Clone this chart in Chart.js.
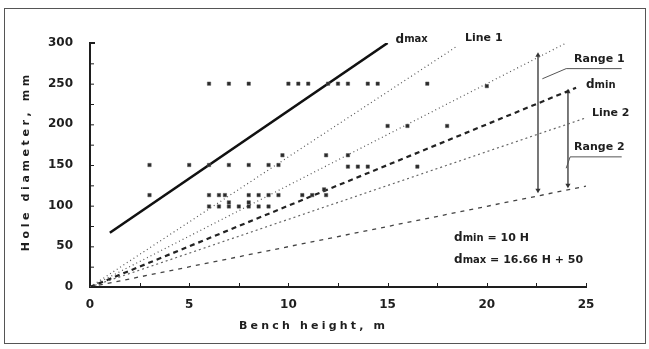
<!DOCTYPE html>
<html>
<head>
<meta charset="utf-8">
<script src="https://cdn.jsdelivr.net/npm/chart.js@4/dist/chart.umd.min.js"></script>
<style>
  html, body { margin: 0; padding: 0; background: #fff; }
  #wrap { width: 649px; height: 349px; }
</style>
</head>
<body>
<div id="wrap"><canvas id="chart" width="649" height="349"></canvas></div>
<script>
// ── data ──────────────────────────────────────────────────────────
const benchHeight = [
  6, 7, 8, 10, 10.5, 11, 12, 12.5, 13, 14, 14.5, 17, 20,
  9.7, 11.9, 13,
  15, 16, 18,
  3, 5, 6, 7, 8, 9, 9.5, 13, 13.5, 14, 16.5,
  3, 6, 6.5, 6.8, 8, 8.5, 9, 9.5, 10.7, 11.2, 11.9,
  11.8,
  6, 6.5, 7, 7.5, 8, 8.5, 9,
  7, 8
];
const holeDiameter = [
  250, 250, 250, 250, 250, 250, 250, 250, 250, 250, 250, 250, 247,
  162, 162, 162,
  198, 198, 198,
  150, 150, 150, 150, 150, 150, 150, 148, 148, 148, 148,
  113, 113, 113, 113, 113, 113, 113, 113, 113, 113, 113,
  120,
  99, 99, 99, 99, 99, 99, 99,
  104, 104
];

// line end points [H, d]
const dmaxLine  = [[1, 66.66], [15, 300]];
const line1     = [[0, 0], [18.5, 296]];
const upperLine = [[0, 0], [24, 300]];
const dminLine  = [[0, 0], [24.5, 245]];
const line2     = [[0, 0], [25, 208]];
const lowerLine = [[0, 0], [25, 124]];

// range arrows [H, d]
const range1 = [[22.58, 285], [22.58, 119]];
const range2 = [[24.09, 240], [24.09, 125]];

const xTicks = [0, 5, 10, 15, 20, 25];
const yTicks = [0, 50, 100, 150, 200, 250, 300];

const FONT = "'DejaVu Sans', Verdana, sans-serif";
const INK = "#1e1e1e";

const toPts = arr => arr.map(p => ({ x: p[0], y: p[1] }));

function lineSet(pts, width, dash, color) {
    return {
        data: toPts(pts), showLine: true, pointRadius: 0,
        borderColor: color, borderWidth: width, borderDash: dash
    };
}

function arrowSet(pts) {
    return {
        data: toPts(pts), showLine: true, borderColor: "#666", borderWidth: 1,
        pointStyle: "triangle", pointRadius: 3, pointRotation: [0, 180],
        pointBackgroundColor: "#333", pointBorderColor: "#333", pointBorderWidth: 0
    };
}

// text with extra letter spacing, centred on x
function spaced(ctx, text, x, y, gap) {
    const widths = [...text].map(ch => ctx.measureText(ch).width);
    const total = widths.reduce((a, b) => a + b, 0) + gap * (text.length - 1);
    let cx = x - total / 2;
    [...text].forEach((ch, i) => { ctx.fillText(ch, cx, y); cx += widths[i] + gap; });
}

// "d" + smaller trailing word
function dLabel(ctx, sub, x, y) {
    ctx.font = `bold 12px ${FONT}`;
    ctx.fillText("d", x, y);
    const w = ctx.measureText("d").width;
    ctx.font = `bold 10px ${FONT}`;
    ctx.fillText(sub, x + w, y);
    return x + w + ctx.measureText(sub).width;
}

const decor = {
    id: "decor",
    afterDraw(chart) {
        const { ctx, scales: { x, y } } = chart;
        const px = v => x.getPixelForValue(v);
        const py = v => y.getPixelForValue(v);
        ctx.save();

        // outer frame
        ctx.strokeStyle = "#555";
        ctx.lineWidth = 1;
        ctx.strokeRect(4.5, 8.5, 641, 335);

        // inward tick marks
        ctx.strokeStyle = INK;
        ctx.lineWidth = 1;
        for (let v = 25; v < 300; v += 25) {
            ctx.beginPath();
            ctx.moveTo(px(0), py(v) + 0.5);
            ctx.lineTo(px(0) + 4, py(v) + 0.5);
            ctx.stroke();
        }
        ctx.beginPath(); ctx.moveTo(px(0), py(300)); ctx.lineTo(px(0) + 5, py(300)); ctx.lineWidth = 2; ctx.stroke();
        ctx.lineWidth = 1;
        for (let v = 2.5; v <= 25; v += 2.5) {
            ctx.beginPath();
            ctx.moveTo(Math.round(px(v)) + 0.5, py(0));
            ctx.lineTo(Math.round(px(v)) + 0.5, py(0) - 4);
            ctx.stroke();
        }

        // axis titles
        ctx.fillStyle = INK;
        ctx.textBaseline = "middle";
        ctx.font = `bold 11px ${FONT}`;
        spaced(ctx, "Bench height, m", 312, 326, 3.2);
        ctx.save();
        ctx.translate(26, 163);
        ctx.rotate(-Math.PI / 2);
        spaced(ctx, "Hole diameter, mm", 0, 0, 3.6);
        ctx.restore();

        // line labels
        dLabel(ctx, "max", px(15.4), py(304));
        ctx.font = `bold 11px ${FONT}`;
        ctx.fillText("Line 1", px(18.9), py(306));
        ctx.fillText("Range 1", px(24.4), py(280));
        dLabel(ctx, "min", px(25.0), py(248));
        ctx.font = `bold 11px ${FONT}`;
        ctx.fillText("Line 2", px(25.3), py(214));
        ctx.fillText("Range 2", px(24.4), py(172));

        // underlines and leaders for range labels
        ctx.strokeStyle = "#555";
        ctx.lineWidth = 1;
        ctx.beginPath();
        ctx.moveTo(px(24.0), py(268.5)); ctx.lineTo(px(26.8), py(268.5));
        ctx.moveTo(px(24.0), py(268.5)); ctx.lineTo(px(22.8), py(256));
        ctx.moveTo(px(24.2), py(160)); ctx.lineTo(px(26.8), py(160));
        ctx.moveTo(px(24.2), py(160)); ctx.lineTo(px(24.0), py(146));
        ctx.stroke();

        // equations
        let end = dLabel(ctx, "min", px(18.35), py(60));
        ctx.font = `bold 11px ${FONT}`;
        ctx.fillText(" = 10 H", end, py(60));
        end = dLabel(ctx, "max", px(18.35), py(33));
        ctx.font = `bold 11px ${FONT}`;
        ctx.fillText(" = 16.66 H + 50", end, py(33));

        ctx.restore();
    }
};

const scatterPts = benchHeight.map((h, i) => ({ x: h, y: holeDiameter[i] }));

new Chart(document.getElementById("chart"), {
    type: "scatter",
    data: {
        datasets: [
            {
                data: scatterPts, pointStyle: "rect", pointRadius: 2.4,
                pointBackgroundColor: "#2a2a2a", pointBorderColor: "#555", pointBorderWidth: 0.5
            },
            lineSet(dmaxLine, 2.6, [], "#111"),
            lineSet(line1, 1.2, [1, 3], "#555"),
            lineSet(upperLine, 1.2, [1, 3], "#555"),
            lineSet(dminLine, 2.2, [5, 4], "#222"),
            lineSet(line2, 1.2, [2, 3], "#666"),
            lineSet(lowerLine, 1.3, [4, 5], "#444"),
            arrowSet(range1),
            arrowSet(range2)
        ]
    },
    options: {
        responsive: false,
        animation: false,
        layout: { padding: { left: 0, top: 43, right: 63, bottom: 0 } },
        plugins: { legend: { display: false }, tooltip: { enabled: false } },
        scales: {
            x: {
                type: "linear", min: 0, max: 25,
                afterFit: s => { s.height = 62; },
                afterBuildTicks: s => { s.ticks = xTicks.map(v => ({ value: v })); },
                ticks: { color: INK, font: { family: FONT, size: 12, weight: "bold" }, padding: 11, maxRotation: 0 },
                grid: { display: true, drawOnChartArea: false, drawTicks: false },
                border: { color: INK, width: 2 }
            },
            y: {
                type: "linear", min: 0, max: 300,
                afterFit: s => { s.width = 90; },
                afterBuildTicks: s => { s.ticks = yTicks.map(v => ({ value: v })); },
                ticks: { color: INK, font: { family: FONT, size: 12, weight: "bold" }, padding: 17 },
                grid: { display: true, drawOnChartArea: false, drawTicks: false },
                border: { color: INK, width: 2 }
            }
        }
    },
    plugins: [decor]
});
</script>
</body>
</html>
